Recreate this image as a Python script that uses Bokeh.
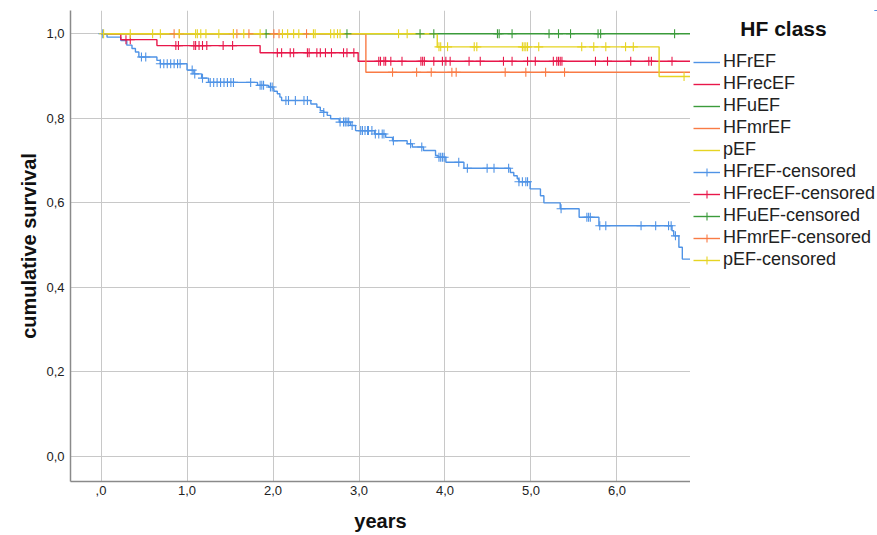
import numpy as np
from bokeh.plotting import figure
from bokeh.layouts import row
from bokeh.models import FixedTicker, Legend, LegendItem, ColumnDataSource, Range1d, Label
from bokeh.embed import file_html
from bokeh.resources import INLINE

# ---------------- data ----------------
series_names = ["HFrEF", "HFrecEF", "HFuEF", "HFmrEF", "pEF"]
series_colors = ["#4f93e6", "#e8174a", "#3b9b3b", "#f97b45", "#e6d422"]
t_end = 6.86

hfref_event_t = [0.07, 0.23, 0.30, 0.36, 0.40, 0.44, 0.65, 0.69, 1.00, 1.08, 1.17, 1.25,
                 1.82, 1.95, 2.00, 2.01, 2.05, 2.08, 2.10, 2.44, 2.51, 2.55, 2.59, 2.63,
                 2.67, 2.77, 2.90, 2.96, 3.18, 3.31, 3.39, 3.56, 3.62, 3.75, 3.89, 3.92,
                 4.01, 4.22, 4.76, 4.80, 4.84, 4.86, 4.99, 5.11, 5.15, 5.34, 5.56, 5.79,
                 6.64, 6.66, 6.72, 6.76]
hfref_event_s = [0.992, 0.984, 0.973, 0.965, 0.957, 0.945, 0.937, 0.929, 0.914, 0.905, 0.895, 0.885,
                 0.878, 0.874, 0.870, 0.864, 0.858, 0.850, 0.842, 0.834, 0.826, 0.818, 0.814, 0.807,
                 0.799, 0.791, 0.783, 0.771, 0.763, 0.755, 0.747, 0.740, 0.732, 0.724, 0.712, 0.708,
                 0.696, 0.682, 0.672, 0.664, 0.657, 0.650, 0.633, 0.617, 0.600, 0.586, 0.566, 0.546,
                 0.534, 0.522, 0.495, 0.467]
hfref_cens_t = [0.02, 0.47, 0.52, 0.69, 0.73, 0.77, 0.81, 0.85, 0.89, 0.92, 1.06, 1.09, 1.18,
                1.27, 1.31, 1.35, 1.39, 1.43, 1.47, 1.51, 1.54, 1.74, 1.85, 1.87, 1.89,
                1.97, 1.99, 2.15, 2.18, 2.26, 2.36, 2.40, 2.59, 2.78, 2.82, 2.84, 2.86, 2.88,
                2.92, 3.02, 3.04, 3.07, 3.10, 3.11, 3.15, 3.19, 3.23, 3.27, 3.29, 3.40,
                3.60, 3.73, 3.93, 3.95, 3.97, 3.99, 4.16, 4.26, 4.49, 4.57, 4.74, 4.86,
                4.90, 4.94, 4.96, 5.35, 5.65, 5.67, 5.69, 5.80, 5.87, 6.28, 6.45, 6.60,
                6.63, 6.68]

hfrecef_event_t = [0.23, 0.65, 1.85, 2.99]
hfrecef_event_s = [0.986, 0.972, 0.955, 0.935]
hfrecef_cens_t = [0.29, 0.34, 0.87, 0.90, 1.08, 1.10, 1.14, 1.18, 1.23, 1.42, 1.53,
                  2.05, 2.10, 2.20, 2.24, 2.40, 2.42, 2.51, 2.55, 2.61, 2.68, 2.82, 2.86, 2.94,
                  3.23, 3.25, 3.29, 3.31, 3.37, 3.50, 3.72, 3.74, 3.76, 3.87, 3.97, 4.01, 4.06,
                  4.28, 4.41, 4.68, 4.78, 4.96, 5.05, 5.26, 5.30, 5.32, 5.34, 5.36, 5.75, 5.89,
                  6.16, 6.37, 6.40, 6.64]

hfuef_event_t = []
hfuef_event_s = []
hfuef_cens_t = [1.92, 2.86, 3.71, 3.87, 4.61, 4.63, 4.78, 5.21, 5.32, 5.46, 5.78, 5.81, 6.67]

hfmref_event_t = [3.08]
hfmref_event_s = [0.909]
hfmref_cens_t = [0.85, 0.91, 1.54, 1.58, 1.72, 2.01, 2.07, 2.39,
                 3.39, 3.67, 3.84, 4.08, 4.13, 4.70, 4.94, 5.17, 5.39]

pef_event_t = [3.91, 6.49]
pef_event_s = [0.969, 0.899]
pef_cens_t = [0.03, 0.34, 0.60, 0.69, 0.91, 1.10, 1.12, 1.16, 1.22, 1.37, 1.54, 1.66, 1.85,
              2.11, 2.17, 2.24, 2.30, 2.47, 2.49, 2.67, 2.71, 2.75, 2.78, 3.46, 3.56,
              3.93, 3.95, 4.03, 4.34, 4.37, 4.90, 4.92, 4.94, 4.96, 5.09, 5.59, 5.73, 5.87,
              6.10, 6.19, 6.78]

x_ticks = [0, 1, 2, 3, 4, 5, 6]
x_tick_labels = [",0", "1,0", "2,0", "3,0", "4,0", "5,0", "6,0"]
y_ticks = [0.0, 0.2, 0.4, 0.6, 0.8, 1.0]
y_tick_labels = ["0,0", "0,2", "0,4", "0,6", "0,8", "1,0"]

events_t = [hfref_event_t, hfrecef_event_t, hfuef_event_t, hfmref_event_t, pef_event_t]
events_s = [hfref_event_s, hfrecef_event_s, hfuef_event_s, hfmref_event_s, pef_event_s]
cens_t = [hfref_cens_t, hfrecef_cens_t, hfuef_cens_t, hfmref_cens_t, pef_cens_t]

# ---------------- build sources ----------------
step_sources, cens_sources = [], []
for et, es, ct in zip(events_t, events_s, cens_t):
    xs = [0.0] + list(et) + [t_end]
    ys = [1.0] + list(es) + [es[-1] if es else 1.0]
    step_sources.append(ColumnDataSource(dict(x=xs, y=ys)))
    et_a = np.array(et, dtype=float)
    cy = []
    for c in ct:
        i = np.searchsorted(et_a, c, side="right") - 1
        cy.append(1.0 if i < 0 else float(es[i]))
    cens_sources.append(ColumnDataSource(dict(x=list(ct), y=cy)))

# ---------------- main figure ----------------
FONT = "Liberation Sans"
p = figure(width=690, height=535, output_backend="svg", toolbar_location=None,
           x_range=(-0.355, 6.855), y_range=(-0.059, 1.055),
           min_border_left=70, min_border_right=0, min_border_top=10, min_border_bottom=54)
p.outline_line_color = None
p.background_fill_color = "white"
p.border_fill_color = "white"

for ax, ticks, labels in ((p.xaxis, x_ticks, x_tick_labels), (p.yaxis, y_ticks, y_tick_labels)):
    ax.ticker = FixedTicker(ticks=ticks)
    ax.major_label_overrides = {t: l for t, l in zip(ticks, labels)}
    ax.major_tick_out = 0
    ax.major_tick_in = 0
    ax.minor_tick_out = 0
    ax.minor_tick_in = 0
    ax.axis_line_color = "#8a8a8a"
    ax.axis_line_width = 1.5
    ax.major_label_text_font = FONT
    ax.major_label_text_font_size = "13px"
    ax.major_label_text_color = "#222222"
    ax.axis_label_text_font = FONT
    ax.axis_label_text_font_size = "20px"
    ax.axis_label_text_font_style = "bold"
    ax.axis_label_text_color = "#111111"

p.xaxis.axis_label = "years"
p.yaxis.axis_label = "cumulative survival"
p.xaxis.major_label_standoff = 4
p.yaxis.major_label_standoff = 6
p.xaxis.axis_label_standoff = 12
p.yaxis.axis_label_standoff = 3

p.xgrid.ticker = FixedTicker(ticks=x_ticks)
p.ygrid.ticker = FixedTicker(ticks=y_ticks)
for g in (p.xgrid, p.ygrid):
    g.grid_line_color = "#c8c8c8"
    g.grid_line_width = 1

for src, col in zip(step_sources, series_colors):
    p.step("x", "y", source=src, mode="after", line_color=col, line_width=1.4)
for src, col in zip(cens_sources, series_colors):
    p.scatter("x", "y", source=src, marker="cross", size=9, line_color=col, line_width=1.1)

# ---------------- legend panel (its ranges hold no data, so only the legend shows) ----------------
q = figure(width=187, height=535, output_backend="svg", toolbar_location=None,
           x_range=Range1d(-184, 0), y_range=Range1d(-471, 0),
           min_border_left=3, min_border_right=0, min_border_top=10, min_border_bottom=54)
q.axis.visible = False
q.grid.visible = False
q.outline_line_color = None
q.background_fill_color = "white"
q.border_fill_color = "white"

lr = [q.step("x", "y", source=src, mode="after", line_color=col, line_width=1.4)
      for src, col in zip(step_sources, series_colors)]
lc = [q.scatter("x", "y", source=src, marker="cross", size=9, line_color=col, line_width=1.1)
      for src, col in zip(cens_sources, series_colors)]

items = [LegendItem(label=n, renderers=[r]) for n, r in zip(series_names, lr)]
items += [LegendItem(label=n + "-censored", renderers=[r, c])
          for n, r, c in zip(series_names, lr, lc)]

legend = Legend(items=items, location=(0, 211), margin=0, padding=0,
                spacing=1, glyph_width=27, glyph_height=20, label_height=20,
                label_standoff=3, label_text_font=FONT, label_text_font_size="18px",
                label_text_color="#222222", border_line_color=None,
                background_fill_alpha=0)
q.add_layout(legend)

q.add_layout(Label(x=-94, y=-18, text="HF class", text_align="center",
                   text_baseline="middle", text_font=FONT, text_font_size="21px",
                   text_font_style="bold", text_color="#111111"))

layout = row(p, q)
open("out.html", "w").write(file_html(layout, INLINE))
